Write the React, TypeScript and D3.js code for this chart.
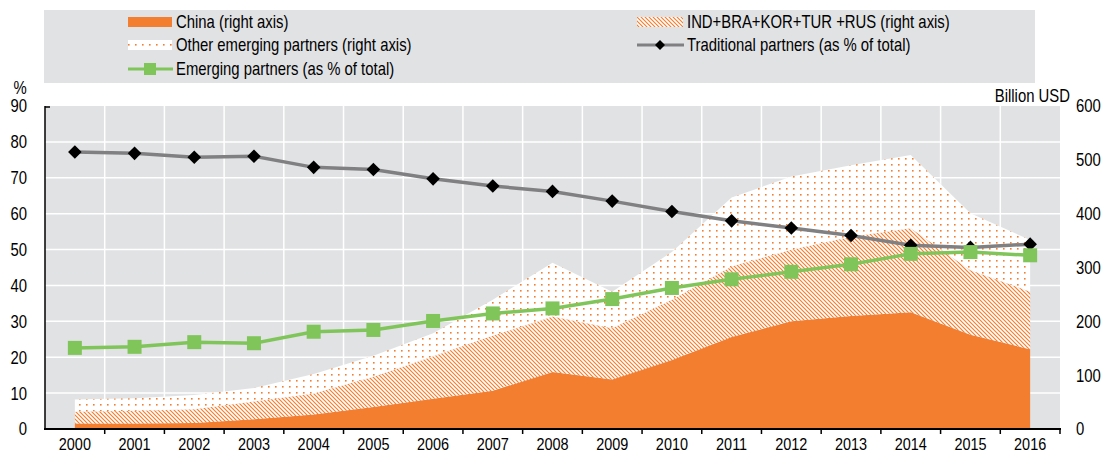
import React from 'react';
import * as d3 from 'd3';

const years = ['2000','2001','2002','2003','2004','2005','2006','2007','2008','2009','2010','2011','2012','2013','2014','2015','2016'];
// Billion USD (right axis), stacked
const china = [10, 10, 11, 18, 27, 41, 56, 71, 106, 92, 128, 171, 200, 210, 217, 175, 148];
const indBraKorTurRus = [22, 24, 25.5, 33, 39, 56, 79, 102, 103, 95, 112, 131, 133, 147, 156, 120, 107];
const otherEmerging = [23, 23, 26.5, 25, 36, 39, 43, 67, 100, 68, 89, 128, 136, 133, 136, 106, 96];
// % of total (left axis)
const traditionalPct = [77.2, 76.8, 75.7, 76.0, 72.9, 72.3, 69.7, 67.7, 66.2, 63.5, 60.6, 58.0, 56.0, 53.9, 51.2, 50.6, 51.5];
const emergingPct = [22.6, 22.9, 24.2, 23.9, 27.1, 27.6, 30.1, 32.2, 33.6, 36.2, 39.3, 41.7, 43.8, 45.9, 48.8, 49.3, 48.4];
const leftTicks = [0, 10, 20, 30, 40, 50, 60, 70, 80, 90];
const rightTicks = [0, 100, 200, 300, 400, 500, 600];

const legendLabels = {
  china: 'China (right axis)',
  ibktr: 'IND+BRA+KOR+TUR +RUS (right axis)',
  other: 'Other emerging partners (right axis)',
  trad: 'Traditional partners (as % of total)',
  emerg: 'Emerging partners (as % of total)',
};

const ORANGE = '#f47e30';
const GREEN = '#80c55a';
const GREYLINE = '#808083';
const BG = '#e1e2e4';
const FONT = "'Liberation Sans', Arial, sans-serif";
const SX = 0.85;

function T({ x, y, anchor = 'start', children }: { x: number; y: number; anchor?: string; children: any }) {
  return (
    <text transform={`translate(${x},${y}) scale(${SX},1)`} textAnchor={anchor as any} dominantBaseline="central">
      {children}
    </text>
  );
}

export default function App() {
  const W = 1104, H = 453;
  const L = 45, R = 1060, Tp = 106, B = 429;

  const x = d3.scaleBand<string>().domain(years).range([L, R]).padding(0);
  const bw = x.bandwidth();
  const cx = (y: string) => (x(y) as number) + bw / 2;
  const yL = d3.scaleLinear().domain([0, 90]).range([B, Tp]);
  const yR = d3.scaleLinear().domain([0, 600]).range([B, Tp]);

  const rows = years.map((yr, i) => ({ yr, china: china[i], ibktr: indBraKorTurRus[i], other: otherEmerging[i] }));
  const stack = d3.stack<any>().keys(['china', 'ibktr', 'other'])(rows);
  const area = d3.area<any>()
    .x((d) => cx(d.data.yr))
    .y0((d) => yR(d[0]))
    .y1((d) => yR(d[1]));
  const fills = [ORANGE, 'url(#hatch)', 'url(#dots)'];

  const line = d3.line<number>().x((_, i) => cx(years[i])).y((d) => yL(d));
  const diamond = 'M0,-6.8L6.8,0L0,6.8L-6.8,0Z';

  const fs = 17.5;

  return (
    <svg width={W} height={H} style={{ position: 'absolute', left: 0, top: 0, fontFamily: FONT }}>
      <defs>
        <pattern id="hatch" patternUnits="userSpaceOnUse" width={4} height={4}>
          <rect width={4} height={4} fill="#fff" />
          <path d="M0,0L4,4M-1,3L1,5M3,-1L5,1" stroke={ORANGE} strokeWidth={1.2} />
        </pattern>
        <pattern id="dots" patternUnits="userSpaceOnUse" width={7} height={6}>
          <rect width={7} height={6} fill="#fff" />
          <rect x={2} y={2} width={1.6} height={1.6} fill={ORANGE} />
        </pattern>
      </defs>

      {/* Legend */}
      <rect x={44} y={10} width={991} height={73} fill={BG} />
      <g fontSize={fs} fill="#000">
        <rect x={128} y={17} width={44} height={10} fill={ORANGE} />
        <T x={176} y={22}>{legendLabels.china}</T>
        <rect x={128} y={40} width={44} height={10} fill="url(#dots)" />
        <T x={176} y={45}>{legendLabels.other}</T>
        <line x1={128} x2={173} y1={69} y2={69} stroke={GREEN} strokeWidth={3} />
        <rect x={144} y={63} width={12} height={12} fill={GREEN} />
        <T x={176} y={69}>{legendLabels.emerg}</T>

        <rect x={637} y={17} width={46} height={10} fill="url(#hatch)" />
        <T x={687} y={22}>{legendLabels.ibktr}</T>
        <line x1={637} x2={684} y1={45} y2={45} stroke={GREYLINE} strokeWidth={3} />
        <path d="M0,-5L5,0L0,5L-5,0Z" transform="translate(660,45)" fill="#000" />
        <T x={687} y={45}>{legendLabels.trad}</T>
      </g>

      {/* Plot background */}
      <rect x={L} y={Tp} width={R - L} height={B - Tp} fill={BG} />
      {leftTicks.filter((t) => t > 0 && t < 90).map((t) => (
        <line key={'hg' + t} x1={L} x2={R} y1={yL(t)} y2={yL(t)} stroke="#fff" strokeWidth={1.5} />
      ))}
      {years.slice(1).map((yr) => (
        <line key={'vg' + yr} x1={x(yr) as number} x2={x(yr) as number} y1={Tp} y2={B} stroke="#fff" strokeWidth={1.5} />
      ))}

      {/* Areas */}
      {stack.map((s, i) => (
        <path key={'a' + i} d={area(s) as string} fill={fills[i]} />
      ))}

      {/* Traditional line */}
      <path d={line(traditionalPct) as string} fill="none" stroke={GREYLINE} strokeWidth={3.5} />
      {traditionalPct.map((v, i) => (
        <path key={'dm' + i} d={diamond} transform={`translate(${cx(years[i])},${yL(v)})`} fill="#000" />
      ))}
      {/* Emerging line */}
      <path d={line(emergingPct) as string} fill="none" stroke={GREEN} strokeWidth={3.5} />
      {emergingPct.map((v, i) => (
        <rect key={'sq' + i} x={cx(years[i]) - 7} y={yL(v) - 7} width={14} height={14} fill={GREEN} />
      ))}

      {/* Axes */}
      <line x1={L} x2={L} y1={Tp} y2={B} stroke="#000" strokeWidth={1.5} />
      <line x1={L} x2={L + 5} y1={Tp + 1} y2={Tp + 1} stroke="#000" strokeWidth={1.5} />
      <line x1={L - 1} x2={R + 1} y1={B} y2={B} stroke="#000" strokeWidth={2} />
      {years.slice(1).map((yr) => (
        <line key={'xt' + yr} x1={x(yr) as number} x2={x(yr) as number} y1={B} y2={B + 5} stroke="#000" strokeWidth={1.5} />
      ))}
      <line x1={R} x2={R} y1={B} y2={B + 5} stroke="#000" strokeWidth={1.5} />

      <g fontSize={fs} fill="#000">
        {leftTicks.map((t) => (
          <T key={'lt' + t} x={27} y={yL(t)} anchor="end">{t}</T>
        ))}
        {rightTicks.map((t) => (
          <T key={'rt' + t} x={1076} y={yR(t)}>{t}</T>
        ))}
        <T x={20} y={88} anchor="middle">%</T>
        <T x={1070} y={96} anchor="end">Billion USD</T>
      </g>
      <g fontSize={17} fill="#000">
        {years.map((yr) => (
          <T key={'xl' + yr} x={cx(yr)} y={444} anchor="middle">{yr}</T>
        ))}
      </g>
    </svg>
  );
}
